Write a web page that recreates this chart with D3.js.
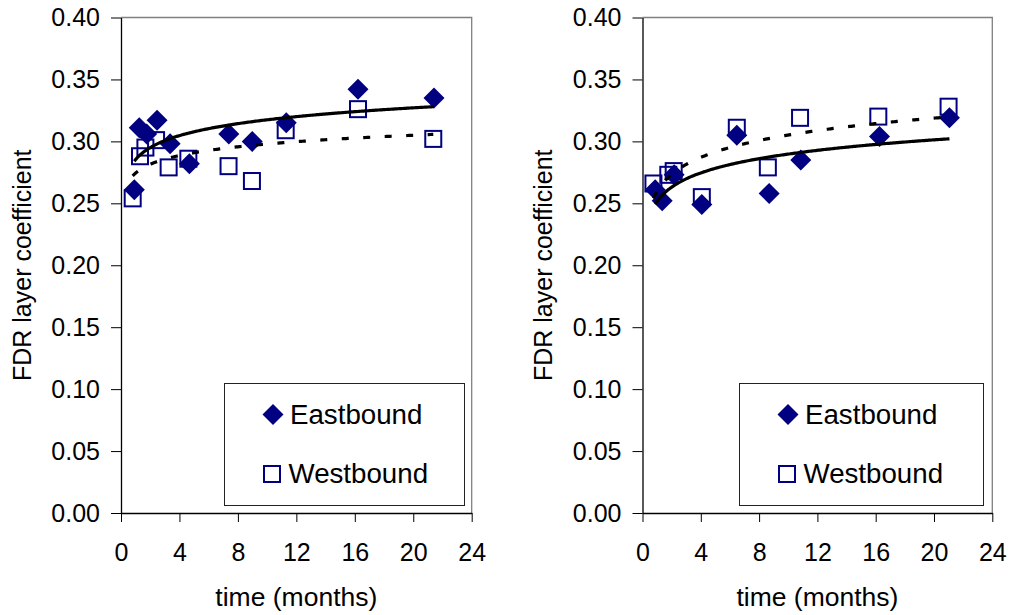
<!DOCTYPE html>
<html>
<head>
<meta charset="utf-8">
<script src="https://cdn.jsdelivr.net/npm/d3@7"></script>
<style>
  body { margin: 0; background: #fff; }
  svg { display: block; }
  text { font-family: "Liberation Sans", Arial, sans-serif; fill: #000; }
</style>
</head>
<body>
<svg id="chart" width="1012" height="615"></svg>
<script>
// ---------------- data ----------------
const xTicks = [0, 4, 8, 12, 16, 20, 24];
const yTicks = [0, 0.05, 0.10, 0.15, 0.20, 0.25, 0.30, 0.35, 0.40];
const seriesNames = ["Eastbound", "Westbound"];

const leftEastTime  = [0.91, 1.25, 1.76, 2.47, 3.36, 4.68, 7.38, 8.98, 11.31, 16.22, 21.42];
const leftEastCoef  = [0.261, 0.311, 0.306, 0.317, 0.298, 0.282, 0.306, 0.300, 0.315, 0.342, 0.335];
const leftWestTime  = [0.80, 1.30, 1.67, 2.40, 3.26, 4.61, 7.36, 8.96, 11.27, 16.22, 21.37];
const leftWestCoef  = [0.254, 0.288, 0.295, 0.301, 0.279, 0.286, 0.280, 0.268, 0.309, 0.326, 0.302];

const rightEastTime = [0.87, 1.35, 2.17, 4.07, 6.47, 8.69, 10.86, 16.26, 21.06];
const rightEastCoef = [0.261, 0.252, 0.273, 0.249, 0.305, 0.258, 0.285, 0.304, 0.319];
const rightWestTime = [0.75, 1.77, 2.14, 4.07, 6.47, 8.60, 10.81, 16.18, 21.00];
const rightWestCoef = [0.266, 0.273, 0.276, 0.255, 0.311, 0.279, 0.319, 0.320, 0.328];

// ---------------- layout ----------------
const panels = [
  { x0: 121, x1: 471.7, yTitleX: 22,
    east: [leftEastTime, leftEastCoef], west: [leftWestTime, leftWestCoef],
    legend: { x: 224, y: 383, w: 240, h: 122 } },
  { x0: 642.5, x1: 992.3, yTitleX: 543,
    east: [rightEastTime, rightEastCoef], west: [rightWestTime, rightWestCoef],
    legend: { x: 739, y: 383, w: 244, h: 122 } }
];
const yTop = 17.5, yBot = 513;
const navy = "#000080";
const dR = 10.5, sq = 16;

const svg = d3.select("#chart");

function logFit(ts, vs) {
  const lx = ts.map(Math.log);
  const mx = d3.mean(lx), my = d3.mean(vs);
  let sxy = 0, sxx = 0;
  lx.forEach((x, i) => { sxy += (x - mx) * (vs[i] - my); sxx += (x - mx) * (x - mx); });
  const b = sxy / sxx, a = my - b * mx;
  return t => a + b * Math.log(t);
}

const diamondPath = r => `M0,${-r}L${r},0L0,${r}L${-r},0Z`;

panels.forEach(p => {
  const x = d3.scaleLinear().domain([0, 24]).range([p.x0, p.x1]);
  const y = d3.scaleLinear().domain([0, 0.4]).range([yBot, yTop]);
  const g = svg.append("g");

  // frame (top & right)
  g.append("path")
    .attr("d", `M${p.x0},${yTop}H${p.x1}V${yBot}`)
    .attr("fill", "none").attr("stroke", "#808080").attr("stroke-width", 1.3);

  // axes
  const ya = g.append("g").attr("transform", `translate(${p.x0},0)`)
    .call(d3.axisLeft(y).tickValues(yTicks).tickFormat(d3.format(".2f"))
      .tickSize(10).tickSizeOuter(0).tickPadding(11));
  const xa = g.append("g").attr("transform", `translate(0,${yBot})`)
    .call(d3.axisBottom(x).tickValues(xTicks).tickFormat(d3.format("d"))
      .tickSize(9).tickSizeOuter(0).tickPadding(21));
  [ya, xa].forEach(a => {
    a.select(".domain").attr("stroke", "#000").attr("stroke-width", 1.3);
    a.selectAll(".tick line").attr("stroke", "#000").attr("stroke-width", 1);
    a.selectAll(".tick text").attr("font-size", 25)
      .style("font-family", '"Liberation Sans", Arial, sans-serif').attr("fill", "#000");
  });

  // titles
  g.append("text")
    .attr("transform", `translate(${p.yTitleX},${(yTop + yBot) / 2}) rotate(-90)`)
    .attr("text-anchor", "middle").attr("dominant-baseline", "central")
    .attr("font-size", 25).text("FDR layer coefficient");
  g.append("text")
    .attr("x", (p.x0 + p.x1) / 2).attr("y", 606)
    .attr("text-anchor", "middle").attr("font-size", 26.5).text("time (months)");

  const east = p.east[0].map((t, i) => ({ t, v: p.east[1][i] }));
  const west = p.west[0].map((t, i) => ({ t, v: p.west[1][i] }));

  // markers: squares then diamonds
  g.selectAll(".sq").data(west).enter().append("rect")
    .attr("x", d => x(d.t) - sq / 2).attr("y", d => y(d.v) - sq / 2)
    .attr("width", sq).attr("height", sq)
    .attr("fill", "none").attr("stroke", navy).attr("stroke-width", 2);
  g.selectAll(".dm").data(east).enter().append("path")
    .attr("transform", d => `translate(${x(d.t)},${y(d.v)})`)
    .attr("d", diamondPath(dR)).attr("fill", navy);

  // trendlines (logarithmic fit of each series)
  const line = d3.line().x(d => x(d.t)).y(d => y(d.v));
  function trend(ts, vs) {
    const f = logFit(ts, vs);
    const t0 = d3.min(ts), t1 = d3.max(ts);
    return d3.range(0, 201).map(i => { const t = t0 + (t1 - t0) * i / 200; return { t, v: f(t) }; });
  }
  g.append("path").datum(trend(p.east[0], p.east[1])).attr("d", line)
    .attr("fill", "none").attr("stroke", "#000").attr("stroke-width", 3.2);
  g.append("path").datum(trend(p.west[0], p.west[1])).attr("d", line)
    .attr("fill", "none").attr("stroke", "#000").attr("stroke-width", 3.2)
    .attr("stroke-dasharray", "7,14.5");

  // legend
  const L = p.legend;
  g.append("rect").attr("x", L.x + 0.5).attr("y", L.y + 0.5).attr("width", L.w).attr("height", L.h)
    .attr("fill", "#fff").attr("stroke", "#222").attr("stroke-width", 1);
  const lg = g.append("g").attr("transform", `translate(${L.x},${L.y})`);
  lg.append("path").attr("transform", "translate(49,31.5)").attr("d", diamondPath(dR)).attr("fill", navy);
  lg.append("rect").attr("x", 48 - sq / 2).attr("y", 91 - sq / 2).attr("width", sq).attr("height", sq)
    .attr("fill", "none").attr("stroke", navy).attr("stroke-width", 2);
  lg.append("text").attr("x", 66).attr("y", 40.5).attr("font-size", 27.7).text(seriesNames[0]);
  lg.append("text").attr("x", 64.5).attr("y", 99.5).attr("font-size", 27.7).text(seriesNames[1]);
});
</script>
</body>
</html>
